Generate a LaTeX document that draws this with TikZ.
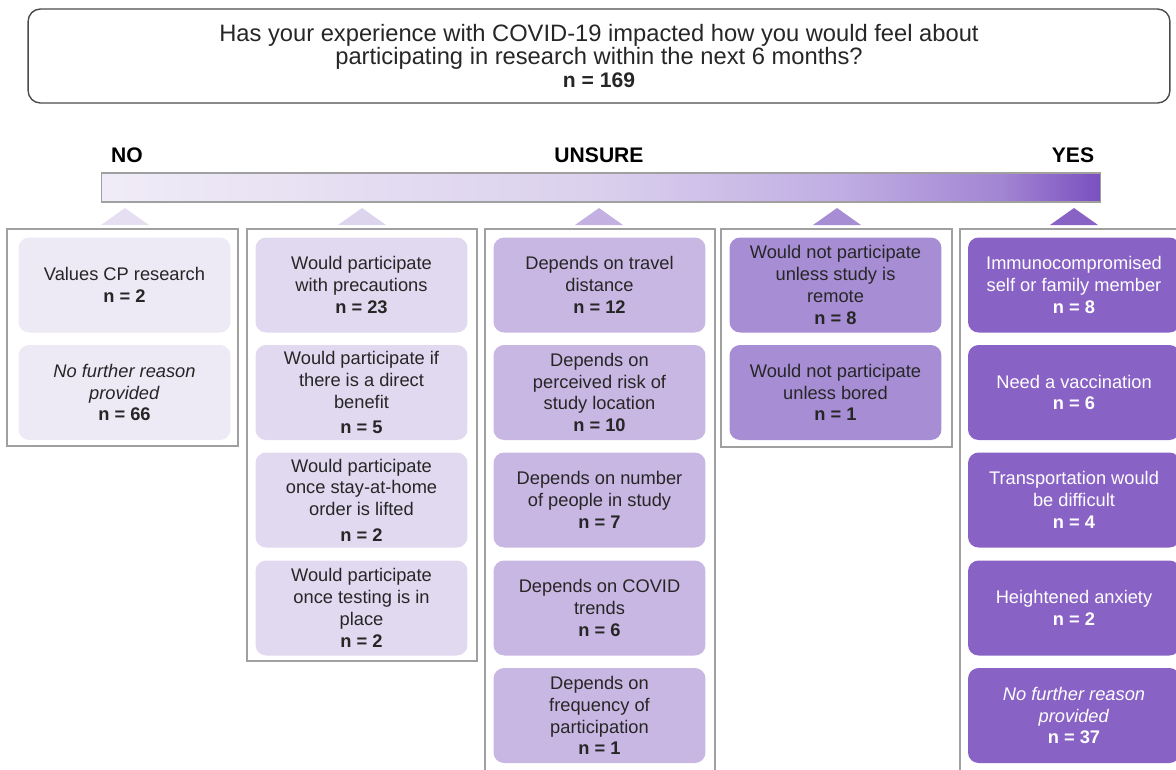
\documentclass[tikz,border=0pt]{standalone}
\usepackage{fontspec}
\setmainfont{Liberation Sans}
\usepackage{xcolor}
\usepackage{tikz}
\definecolor{inkgray}{RGB}{38,38,38}
\definecolor{framegray}{RGB}{160,160,160}
\definecolor{barlo}{RGB}{240,236,247}
\definecolor{barmid}{RGB}{218,208,237}
\definecolor{barup}{RGB}{192,173,227}
\definecolor{bartop}{RGB}{162,133,211}
\definecolor{barhi}{RGB}{122,80,191}
\definecolor{noviolet}{RGB}{237,233,245}
\definecolor{lowviolet}{RGB}{225,217,240}
\definecolor{midviolet}{RGB}{201,183,227}
\definecolor{highviolet}{RGB}{167,141,212}
\definecolor{yesviolet}{RGB}{137,98,197}
\pgfdeclarehorizontalshading{scalefade}{100bp}{color(0bp)=(barlo); color(25bp)=(barlo);
  color(50bp)=(barmid); color(62bp)=(barup); color(70bp)=(bartop); color(75bp)=(barhi);
  color(100bp)=(barhi)}

\begin{document}
\begin{tikzpicture}[x=0.02cm, y=-0.02cm,
  reason/.style={rounded corners=6pt, minimum width=4.24cm, minimum height=1.9cm,
    align=center, inner sep=2pt, text=inkgray, font=\fontsize{10.4}{12.4}\selectfont},
  column/.style={draw=framegray, line width=0.6pt},
  pole/.style={font=\fontsize{12}{14}\selectfont\bfseries, text=black}]
  \useasboundingbox (0,0) rectangle (1176,769);

  \node[draw=black!70, line width=0.8pt, rounded corners=7pt, minimum width=22.84cm,
    minimum height=1.88cm, align=center, text=inkgray,
    font=\fontsize{13.5}{13}\selectfont] (question) at (599,56)
    {Has your experience with COVID-19 impacted how you would feel about\\
     participating in research within the next 6 months?\\
     \textbf{\fontsize{12}{13}\selectfont n = 169}};

  \node[pole] (no) at (127,155) {NO};
  \node[pole] (unsure) at (599,155) {UNSURE};
  \node[pole] (yes) at (1073,155) {YES};

  \node[draw=framegray, line width=0.6pt, shading=scalefade, minimum width=20cm,
    minimum height=0.58cm, inner sep=0pt] (scale) at (601,187.5) {};

  \foreach \x/\c in {125/noviolet!80!midviolet, 362/lowviolet!85!midviolet,
      599/midviolet!85!highviolet, 837/highviolet, 1074/yesviolet}
    \fill[\c] (\x-24,225) -- (\x+24,225) -- (\x,208) -- cycle;

  \draw[column] (7,229) rectangle (238,446);
  \draw[column] (247,229) rectangle (477,661);
  \draw[column] (485,229) rectangle (715,790);
  \draw[column] (721,229) rectangle (952,447);
  \draw[column] (960,229) rectangle (1190,790);

  \node[reason, fill=noviolet] (no1) at (124.5,285) {Values CP research\\\textbf{n = 2}};
  \node[reason, fill=noviolet] (no2) at (124.5,392.5) {\textit{No further reason}\\\textit{provided}\\\textbf{n = 66}};

  \node[reason, fill=lowviolet] (lean1) at (361.5,285) {Would participate\\with precautions\\\textbf{n = 23}};
  \node[reason, fill=lowviolet] (lean2) at (361.5,392.5) {Would participate if\\there is a direct\\benefit\\[2pt]\textbf{n = 5}};
  \node[reason, fill=lowviolet] (lean3) at (361.5,500) {Would participate\\once stay-at-home\\order is lifted\\[2pt]\textbf{n = 2}};
  \node[reason, fill=lowviolet] (lean4) at (361.5,608) {Would participate\\once testing is in\\place\\\textbf{n = 2}};

  \node[reason, fill=midviolet] (unsure1) at (599.5,285) {Depends on travel\\distance\\\textbf{n = 12}};
  \node[reason, fill=midviolet] (unsure2) at (599.5,392.5) {Depends on\\perceived risk of\\study location\\\textbf{n = 10}};
  \node[reason, fill=midviolet] (unsure3) at (599.5,500) {Depends on number\\of people in study\\\textbf{n = 7}};
  \node[reason, fill=midviolet] (unsure4) at (599.5,608) {Depends on COVID\\trends\\\textbf{n = 6}};
  \node[reason, fill=midviolet] (unsure5) at (599.5,715.5) {Depends on\\frequency of\\participation\\\textbf{n = 1}};

  \node[reason, fill=highviolet] (notif1) at (835.5,285) {Would not participate\\unless study is\\remote\\\textbf{n = 8}};
  \node[reason, fill=highviolet] (notif2) at (835.5,392.5) {Would not participate\\unless bored\\\textbf{n = 1}};

  \node[reason, fill=yesviolet, text=white] (yes1) at (1074,285) {Immunocompromised\\self or family member\\\textbf{n = 8}};
  \node[reason, fill=yesviolet, text=white] (yes2) at (1074,392.5) {Need a vaccination\\\textbf{n = 6}};
  \node[reason, fill=yesviolet, text=white] (yes3) at (1074,500) {Transportation would\\be difficult\\\textbf{n = 4}};
  \node[reason, fill=yesviolet, text=white] (yes4) at (1074,608) {Heightened anxiety\\\textbf{n = 2}};
  \node[reason, fill=yesviolet, text=white] (yes5) at (1074,715.5) {\textit{No further reason}\\\textit{provided}\\\textbf{n = 37}};
\end{tikzpicture}
\end{document}
